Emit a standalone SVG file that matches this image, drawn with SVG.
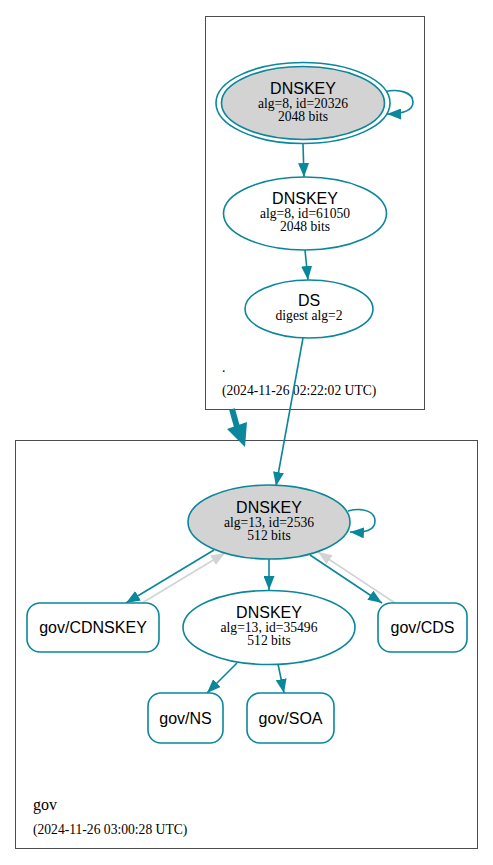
<svg xmlns="http://www.w3.org/2000/svg" width="493" height="865" viewBox="0 0 493 865">
<style>
.cl{fill:none;stroke:#4d4d4d;stroke-width:1}
.n{fill:#fff;stroke:#0a879a;stroke-width:1.6}
.sep{fill:#d3d3d3;stroke:#0a879a;stroke-width:1.6}
.e{fill:none;stroke:#0a879a;stroke-width:1.6}
.g{fill:none;stroke:#d3d3d3;stroke-width:1.6}
.t1{font-family:"Liberation Sans",Arial,sans-serif;font-size:16px;text-anchor:middle;fill:#000}
.t2{font-family:"Liberation Serif","Times New Roman",serif;font-size:13.6px;text-anchor:middle;fill:#000}
.lb{font-family:"Liberation Serif","Times New Roman",serif;font-size:13.6px;fill:#000}
</style>
<defs>
<marker id="a" markerUnits="userSpaceOnUse" markerWidth="14" markerHeight="11" viewBox="0 0 14 11" refX="14" refY="5.5" orient="auto"><path d="M0,0 L14,5.5 L0,11 z" fill="#0a879a"/></marker>
<marker id="ag" markerUnits="userSpaceOnUse" markerWidth="14" markerHeight="11" viewBox="0 0 14 11" refX="14" refY="5.5" orient="auto"><path d="M0,0 L14,5.5 L0,11 z" fill="#d3d3d3"/></marker>
</defs>
<rect width="493" height="865" fill="#fff"/>
<g id="cluster-root">
<rect class="cl" x="205.5" y="16.5" width="219" height="393"/>
<text class="lb" x="222" y="372">.</text>
<text class="lb" x="222" y="395">(2024-11-26 02:22:02 UTC)</text>
</g>
<g id="cluster-gov">
<rect class="cl" x="15.5" y="440.5" width="462" height="408"/>
<text class="lb" x="33" y="810" style="font-size:16px">gov</text>
<text class="lb" x="33" y="834">(2024-11-26 03:00:28 UTC)</text>
</g>
<g id="connectors">
<path class="e" d="M384,92 C400,88 413,93 413,102 C413,111 403,114 387,114" marker-end="url(#a)"/>
<path class="e" d="M303,144 L304,177" marker-end="url(#a)"/>
<path class="e" d="M305,250 L308,280" marker-end="url(#a)"/>
<path class="e" d="M303,338 L276,486" marker-end="url(#a)"/>
<path d="M232,409 L237,427" fill="none" stroke="#0a879a" stroke-width="6"/>
<path d="M227,429 L247,422 L245,447 z" fill="#0a879a"/>
<path class="e" d="M348,511 C364,507 375,512 375,521 C375,530 366,533 350,532" marker-end="url(#a)"/>
<path class="e" d="M214,550 L126,603" marker-end="url(#a)"/>
<path class="g" d="M142,603 L225,553" marker-end="url(#ag)"/>
<path class="e" d="M269,559 L269,590" marker-end="url(#a)"/>
<path class="e" d="M310,555 L382,603" marker-end="url(#a)"/>
<path class="g" d="M395,603 L318,552" marker-end="url(#ag)"/>
<path class="e" d="M237,663 L207,693" marker-end="url(#a)"/>
<path class="e" d="M278,664 L284,693" marker-end="url(#a)"/>
</g>
<g id="node-dnskey-20326">
<ellipse class="n" cx="303" cy="103" rx="87" ry="40.5"/>
<ellipse class="sep" cx="303" cy="103" rx="81.5" ry="36.5"/>
<text class="t1" x="303" y="94">DNSKEY</text>
<text class="t2" x="303" y="108">alg=8, id=20326</text>
<text class="t2" x="303" y="121">2048 bits</text>
</g>
<g id="node-dnskey-61050">
<ellipse class="n" cx="305" cy="213.5" rx="81.5" ry="36.5"/>
<text class="t1" x="305" y="204">DNSKEY</text>
<text class="t2" x="305" y="218">alg=8, id=61050</text>
<text class="t2" x="305" y="231">2048 bits</text>
</g>
<g id="node-ds">
<ellipse class="n" cx="309" cy="309" rx="64" ry="29"/>
<text class="t1" x="309" y="306">DS</text>
<text class="t2" x="309" y="320">digest alg=2</text>
</g>
<g id="node-gov-dnskey-2536">
<ellipse class="sep" cx="269" cy="522" rx="81" ry="37"/>
<text class="t1" x="269" y="513">DNSKEY</text>
<text class="t2" x="269" y="527">alg=13, id=2536</text>
<text class="t2" x="269" y="540">512 bits</text>
</g>
<g id="node-gov-dnskey-35496">
<ellipse class="n" cx="269" cy="627.5" rx="86" ry="37"/>
<text class="t1" x="269" y="618">DNSKEY</text>
<text class="t2" x="269" y="632">alg=13, id=35496</text>
<text class="t2" x="269" y="645">512 bits</text>
</g>
<g id="node-gov-cdnskey">
<rect class="n" x="27" y="603" width="132" height="49" rx="13"/>
<text class="t1" x="93" y="633">gov/CDNSKEY</text>
</g>
<g id="node-gov-cds">
<rect class="n" x="378" y="603" width="89" height="49" rx="13"/>
<text class="t1" x="422.5" y="633">gov/CDS</text>
</g>
<g id="node-gov-ns">
<rect class="n" x="148" y="693" width="75" height="50" rx="13"/>
<text class="t1" x="185.5" y="724">gov/NS</text>
</g>
<g id="node-gov-soa">
<rect class="n" x="247" y="693" width="87" height="50" rx="13"/>
<text class="t1" x="290.5" y="724">gov/SOA</text>
</g>
</svg>
